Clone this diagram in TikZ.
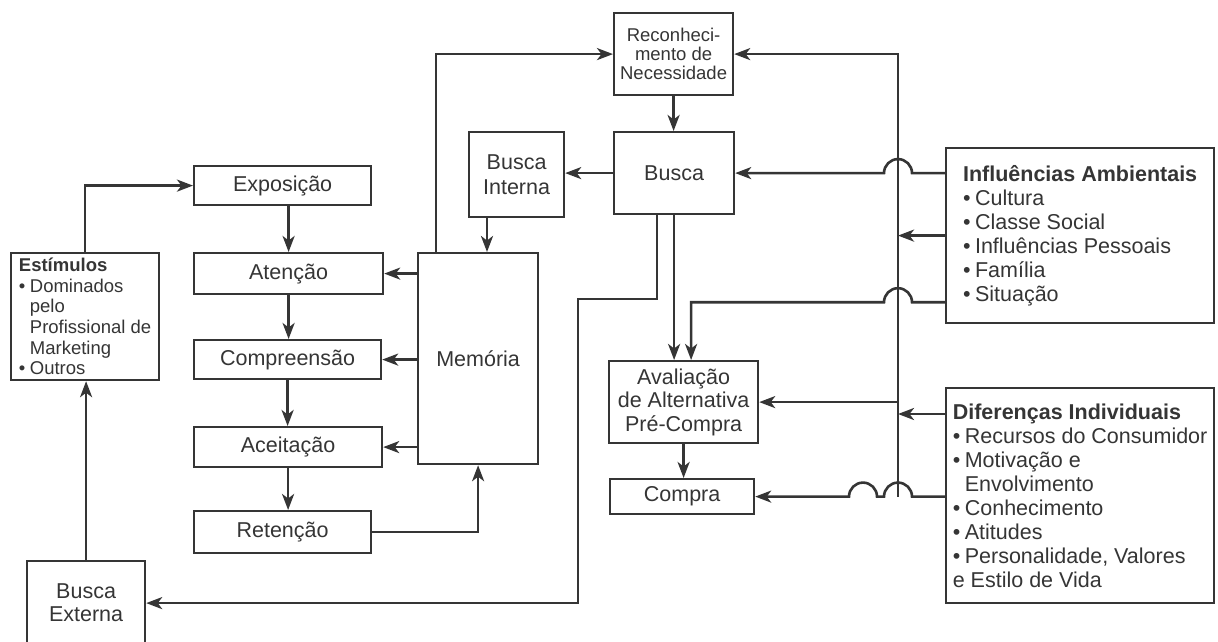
\documentclass[tikz,border=0pt]{standalone}
\usepackage{fontspec}
\setmainfont{Liberation Sans}
\usetikzlibrary{arrows.meta,calc}
\definecolor{ink}{HTML}{353535}
\newcommand{\itm}{\textbullet\kern4.5pt}
\newcommand{\cont}{\hphantom{\textbullet\kern4.5pt}}
\begin{document}
\begin{tikzpicture}[x=1pt,y=-1pt,
  box/.style={draw=ink, line width=2.2pt, text=ink, anchor=north west, inner sep=3pt,
    align=center, font=\fontsize{21.5}{23.5}\selectfont},
  small/.style={font=\fontsize{18.5}{19}\selectfont},
  listbox/.style={box, align=left},
  conn/.style={draw=ink, line width=2.6pt},
  arr/.style={conn, -{Stealth[length=16pt,width=12pt,inset=4.5pt]}},
]
\useasboundingbox (0,0) rectangle (1218,642);
\fill[white] (0,0) rectangle (1218,642);

% decision process column
\node[box, small, minimum width=119pt, minimum height=82pt] (rec) at (613,12) {Reconheci-\\mento de\\Necessidade};
\node[box, minimum width=120pt, minimum height=82pt] (busca) at (613,131) {Busca};
\node[box, minimum width=95pt, minimum height=85pt, font=\fontsize{21.5}{24.5}\selectfont] (bint) at (468,131) {Busca\\Interna};
\node[box, minimum width=149pt, minimum height=82pt] (aval) at (608,360) {Avaliação\\de Alternativa\\Pré-Compra};
\node[box, minimum width=144pt, minimum height=35pt] (compra) at (609,478) {Compra};

% information processing column
\node[box, minimum width=177pt, minimum height=39pt] (expo) at (193,165) {Exposição};
\node[box, minimum width=189pt, minimum height=41pt] (aten) at (193,252) {Atenção};
\node[box, minimum width=187pt, minimum height=39pt] (comp) at (193,339) {Compreensão};
\node[box, minimum width=188pt, minimum height=40pt] (acei) at (193,426) {Aceitação};
\node[box, minimum width=177pt, minimum height=42pt] (ret) at (193,510) {Retenção};
\node[box, minimum width=120pt, minimum height=211pt] (mem) at (417,252) {Memória};

% stimuli and external search
\node[listbox, minimum width=148pt, minimum height=127pt, font=\fontsize{18.5}{20.6}\selectfont] (estim) at (10,252)
  {\textbf{Estímulos}\\\itm Dominados\\\cont pelo\\\cont Profissional de\\\cont Marketing\\\itm Outros};
\node[box, minimum width=118pt, minimum height=84pt, font=\fontsize{21.5}{23}\selectfont] (bext) at (26,560) {Busca\\Externa};

% influencing variables
\node[listbox, minimum width=268pt, minimum height=175pt, font=\fontsize{21.5}{24}\selectfont] (infl) at (945,147)
  {\textbf{Influências Ambientais}\\\itm Cultura\\\itm Classe Social\\\itm Influências Pessoais\\\itm Família\\\itm Situação};
\node[listbox, minimum width=268pt, minimum height=215pt, font=\fontsize{21.5}{24}\selectfont] (dif) at (945,387)
  {\textbf{Diferenças Individuais}\\\itm Recursos do Consumidor\\\itm Motivação e\\\cont Envolvimento\\\itm Conhecimento\\\itm Atitudes\\\itm Personalidade, Valores\\e Estilo de Vida};

% helper coordinates
\coordinate (bus) at (898,0);
\coordinate (m1) at ($(mem.north west)+(19,0)$);
\coordinate (bi) at ($(bint.south west)+(19,0)$);
\coordinate (b1) at ($(busca.south west)+(44,0)$);
\coordinate (bk) at (578,299);
\coordinate (s0) at ($(infl.south west)+(0,-22)$);
\coordinate (s1) at ($(aval.north)+(7.5,0)$);
\coordinate (d0) at ($(dif.north west)+(0,27)$);

% information processing chain
\draw[arr] (estim.north) |- (expo.west);
\draw[arr] (bext.north) -- (bext.north |- estim.south);
\draw[arr] (expo.south -| aten.north) -- (aten.north);
\draw[arr] (aten.south) -- (aten.south |- comp.north);
\draw[arr] (comp.south) -- (comp.south |- acei.north);
\draw[arr] (acei.south) -- (acei.south |- ret.north);
\draw[arr] (mem.west |- aten.east) -- (aten.east);
\draw[arr] (mem.west |- comp.east) -- (comp.east);
\draw[arr] (mem.west |- acei.east) -- (acei.east);
\draw[arr] (ret.east) -| (mem.south);
\draw[arr] (m1) |- (rec.west);

% decision process chain
\draw[arr] (rec.south) -- (rec.south |- busca.north);
\draw[arr] (busca.west) -- (bint.east |- busca.west);
\draw[arr] (bi) -- (bi |- mem.north);
\draw[arr] (b1) |- (bk) |- (bext.east);
\draw[arr] (busca.south) -- (busca.south |- aval.north);
\draw[arr] (aval.south) -- (aval.south |- compra.north);

% influence bus on the right, with line jumps where paths cross it
\draw[arr] (bus |- compra.east) |- (rec.east);
\draw[arr] (infl.west) -- (infl.west -| bus);
\draw[arr] (aval.east -| bus) -- (aval.east);
\draw[arr] (d0) -- (d0 -| bus);
\draw[arr] (infl.west |- busca.east) -- ($(bus |- busca.east)+(14,0)$)
  arc[start angle=0, end angle=180, radius=14pt] -- (busca.east);
\draw[arr] (s0) -- ($(bus |- s0)+(14,0)$)
  arc[start angle=0, end angle=180, radius=14pt] -- (s1 |- s0) -- (s1);
\draw[arr] (dif.west |- compra.east) -- ($(bus |- compra.east)+(14,0)$)
  arc[start angle=0, end angle=180, radius=14pt] -- ($(bus |- compra.east)+(-21,0)$)
  arc[start angle=0, end angle=180, radius=14pt] -- (compra.east);
\end{tikzpicture}
\end{document}
